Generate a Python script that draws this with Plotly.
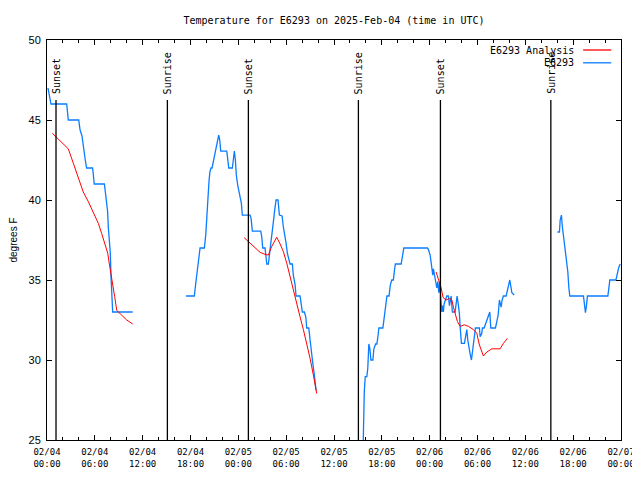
import pandas as pd
import plotly.graph_objects as go

BASE = pd.Timestamp("2025-02-04 00:00")

# Observed temperature (E6293), hours since 02/04 00:00 UTC, segments separated by gaps
obs_seg1_hours = [0.12, 0.25, 0.5, 2.47, 2.67, 3.98, 4.14, 4.39, 4.56, 4.8, 4.97, 5.71, 5.79, 5.92,
                  7.2, 7.36, 7.49, 7.6, 7.69, 7.82, 7.94, 8.03, 8.12, 8.24, 10.75]
obs_seg1_vals = [47.0, 46.6, 46.0, 46.0, 45.0, 45.0, 44.4, 44.0, 43.3, 42.5, 42.0, 42.0, 41.7, 41.0,
                 41.0, 40.3, 39.8, 39.3, 38.3, 37.3, 36.7, 35.2, 33.8, 33.0, 33.0]

obs_seg2_hours = [17.44, 18.48, 18.66, 18.86, 19.07, 19.2, 19.74, 19.91, 20.04, 20.16, 20.33, 20.45,
                  20.58, 20.7, 20.87, 20.99, 21.12, 21.29, 21.42, 21.54, 21.67, 21.79, 22.55, 22.67,
                  22.8, 23.25, 23.38, 23.5, 23.63, 23.75, 23.93, 24.05, 24.22, 24.38, 24.5, 25.47,
                  25.6, 25.76, 26.81, 26.94, 27.06, 27.35, 27.44, 27.57, 27.77, 27.89, 28.07, 28.27,
                  28.39, 28.57, 28.73, 28.98, 29.15, 29.49, 29.65, 29.86, 29.99, 30.15, 30.33, 30.49,
                  30.78, 30.9, 31.12, 31.24, 31.74, 31.91, 32.03, 32.28, 32.46, 32.58, 32.84, 33.0,
                  33.16, 33.34, 33.5, 33.63, 33.75]
obs_seg2_vals = [34.0, 34.0, 34.8, 35.7, 36.25, 37.0, 37.0, 37.8, 38.85, 40.3, 41.25, 41.8,
                 42.0, 42.0, 42.4, 42.8, 43.2, 43.6, 43.85, 44.05, 43.75, 43.06, 43.06, 42.3,
                 42.0, 42.0, 42.7, 43.06, 42.5, 41.56, 40.9, 40.6, 40.2, 39.8, 39.06, 39.06,
                 38.85, 38.06, 38.06, 37.7, 37.0, 37.0, 36.56, 36.0, 36.0, 36.67, 37.3, 38.1,
                 38.75, 39.4, 40.0, 40.0, 39.06, 39.0, 38.3, 37.75, 37.3, 36.67, 36.3, 36.0,
                 36.0, 35.3, 34.7, 34.0, 34.0, 33.5, 33.0, 33.0, 32.7, 32.0, 32.0, 31.25,
                 30.4, 29.8, 29.2, 28.55, 28.1]

obs_seg3_hours = [39.65, 39.69, 39.75, 39.8, 39.92, 40.12, 40.24, 40.33, 40.37, 40.5, 40.63, 40.88,
                  41.0, 41.22, 41.38, 41.56, 41.63, 42.13, 42.31, 42.47, 42.64, 42.9, 43.07, 43.25,
                  43.45, 43.58, 43.7, 44.42, 44.63, 44.76, 47.72, 47.84, 48.06, 48.18, 48.31, 48.39,
                  48.47, 48.6, 48.68, 48.77, 48.9, 49.02, 49.15, 49.27, 49.4, 49.52, 49.6, 49.72,
                  49.81, 50.15, 50.35, 50.48, 50.69, 50.85, 51.19, 51.32, 51.44, 51.61, 51.73, 51.82,
                  51.98, 52.36, 52.53, 52.66, 52.78, 52.91, 53.07, 53.24, 53.41, 53.58, 53.74, 54.24,
                  54.33, 54.54, 54.62, 54.83, 55.04, 55.42, 55.54, 55.67, 56.25, 56.42, 56.59, 56.75,
                  56.96, 57.09, 57.25, 57.59, 57.75, 57.93, 58.05, 58.18, 58.31, 58.6]
obs_seg3_vals = [24.5, 26.0, 26.0, 28.0, 28.96, 28.96, 29.5, 30.4, 31.0, 30.7, 30.0, 30.0,
                 30.7, 31.0, 31.0, 31.67, 32.0, 32.0, 32.7, 33.3, 34.0, 34.0, 34.7, 35.0,
                 35.0, 35.6, 36.0, 36.0, 36.7, 37.0, 37.0, 36.9, 36.56, 36.1, 35.7, 35.3,
                 35.7, 35.4, 35.1, 34.8, 34.5, 34.9, 34.2, 34.8, 33.3, 33.0, 33.4, 33.0,
                 33.5, 34.0, 34.0, 33.4, 34.0, 33.0, 33.0, 33.75, 34.0, 33.4, 32.9, 32.1,
                 31.04, 31.04, 31.45, 31.9, 31.25, 30.7, 30.4, 30.0, 30.8, 31.45, 32.0, 32.0,
                 31.45, 31.67, 32.0, 32.0, 32.3, 32.8, 33.0, 32.0, 32.0, 32.4, 32.8, 33.75,
                 33.3, 33.75, 34.0, 34.0, 34.3, 34.6, 35.0, 34.6, 34.2, 34.06]

obs_seg4_hours = [64.03, 64.28, 64.37, 64.53, 64.62, 64.78, 64.96, 65.08, 65.21, 65.33, 65.46, 65.58,
                  67.29, 67.41, 67.54, 67.67, 67.79, 70.35, 70.48, 70.6, 71.36, 71.48, 71.61, 71.73,
                  71.9]
obs_seg4_vals = [38.0, 38.0, 38.75, 39.06, 38.44, 37.8, 37.2, 36.67, 36.15, 35.5, 34.5, 34.0,
                 34.0, 33.4, 32.96, 33.4, 34.0, 34.0, 34.5, 35.0, 35.0, 35.3, 35.6, 35.8,
                 36.0]

# Analysis (E6293 Analysis)
ana_seg1_hours = [0.67, 2.67, 3.3, 3.93, 4.55, 5.18, 5.81, 6.44, 6.86, 7.28, 7.62, 7.82, 7.99,
                  8.24, 8.49, 8.75, 9.16, 10.0, 10.75]
ana_seg1_vals = [44.17, 43.2, 42.3, 41.46, 40.5, 39.9, 39.27, 38.54, 37.9, 37.2, 36.67, 36.0, 35.4,
                 34.7, 33.96, 33.1, 32.9, 32.5, 32.25]

ana_seg2_hours = [24.72, 25.26, 25.88, 26.73, 27.35, 27.77, 28.19, 28.82, 29.24, 29.65, 30.08,
                  30.49, 30.9, 31.33, 31.74, 32.16, 32.58, 33.0, 33.41, 33.63, 33.84]
ana_seg2_vals = [37.65, 37.4, 37.1, 36.73, 36.6, 36.56, 37.1, 37.67, 37.25, 36.77, 36.04,
                 35.2, 34.27, 33.44, 32.7, 31.9, 31.04, 30.1, 29.06, 28.33, 27.9]

ana_seg3_hours = [48.81, 49.44, 49.69, 50.06, 50.48, 50.78, 50.98, 51.23, 51.48, 51.82, 52.36,
                  52.86, 53.49, 53.91, 54.24, 54.74, 55.17, 55.80, 56.21, 56.84, 57.25, 57.75]
ana_seg3_vals = [35.5, 34.5, 33.9, 33.75, 33.85, 33.75, 33.3, 32.9, 32.4, 32.1, 32.2,
                 32.1, 31.9, 31.67, 30.94, 30.25, 30.5, 30.7, 30.7, 30.7, 31.04, 31.35]

# Sun events (hours since 02/04 00:00 UTC)
sun_event_hours = [1.13, 15.1, 25.26, 39.06, 49.35, 63.2]
sun_event_labels = ["Sunset", "Sunrise", "Sunset", "Sunrise", "Sunset", "Sunrise"]

# X tick labels
xtick_hours = [0, 6, 12, 18, 24, 30, 36, 42, 48, 54, 60, 66, 72]
xtick_labels = ["02/04<br>00:00", "02/04<br>06:00", "02/04<br>12:00", "02/04<br>18:00",
                "02/05<br>00:00", "02/05<br>06:00", "02/05<br>12:00", "02/05<br>18:00",
                "02/06<br>00:00", "02/06<br>06:00", "02/06<br>12:00", "02/06<br>18:00",
                "02/07<br>00:00"]
ytick_vals = [25, 30, 35, 40, 45, 50]


def to_time(h):
    return BASE + pd.to_timedelta(h, unit="h")


def join(segments):
    xs, ys = [], []
    for hrs, vals in segments:
        xs.extend(to_time(h) for h in hrs)
        ys.extend(vals)
        xs.append(None)
        ys.append(None)
    return xs[:-1], ys[:-1]


ax, ay = join([(ana_seg1_hours, ana_seg1_vals), (ana_seg2_hours, ana_seg2_vals),
               (ana_seg3_hours, ana_seg3_vals)])
ox, oy = join([(obs_seg1_hours, obs_seg1_vals), (obs_seg2_hours, obs_seg2_vals),
               (obs_seg3_hours, obs_seg3_vals), (obs_seg4_hours, obs_seg4_vals)])

FONT = "DejaVu Sans Mono"
SANS = "Liberation Sans"
BLUE = "#0a7cff"
RED = "#ff0000"

# The page body has an 8px margin, so margins are shifted by 8px to land the plot area
# at the same screen position as the reference.
W, H = 640, 480

fig = go.Figure()
fig.add_trace(go.Scatter(x=ox, y=oy, mode="lines", name="E6293",
                         line=dict(color=BLUE, width=1.3), connectgaps=False, showlegend=False))
fig.add_trace(go.Scatter(x=ax, y=ay, mode="lines", name="E6293 Analysis",
                         line=dict(color=RED, width=1), connectgaps=False, showlegend=False))

# Sun event lines and labels
for h, lab in zip(sun_event_hours, sun_event_labels):
    t = to_time(h)
    fig.add_shape(type="line", xref="x", yref="paper", x0=t, x1=t, y0=0, y1=0.85,
                  line=dict(color="black", width=1.3), layer="above")
    fig.add_annotation(x=t, xref="x", y=0.85, yref="paper", text=lab, textangle=-90,
                       showarrow=False, xanchor="center", yanchor="bottom", yshift=4,
                       font=dict(family=FONT, size=10, color="black"))

# Legend (gnuplot style: text then sample line)
legend_items = [("E6293 Analysis", RED, 0.975), ("E6293", BLUE, 0.943)]
for text, col, yp in legend_items:
    fig.add_annotation(x=0.921, xref="paper", y=yp, yref="paper", text=text, showarrow=False,
                       xanchor="right", yanchor="middle",
                       font=dict(family=FONT, size=10, color="black"))
    fig.add_shape(type="line", xref="paper", yref="paper", x0=0.934, x1=0.983, y0=yp, y1=yp,
                  line=dict(color=col, width=1.3))

fig.update_layout(
    width=W, height=H,
    margin=dict(l=39, r=27, t=32, b=48, autoexpand=False),
    paper_bgcolor="white", plot_bgcolor="white",
    title=dict(text="Temperature for E6293 on 2025-Feb-04 (time in UTC)", x=0.5, xref="paper",
               y=1 - 12 / H, yanchor="middle", xanchor="center",
               font=dict(family=FONT, size=10, color="black")),
    font=dict(family=FONT, size=10, color="black"),
    showlegend=False,
)
fig.update_xaxes(
    type="date", range=[to_time(0), to_time(72)], automargin=False,
    tickvals=[to_time(h) for h in xtick_hours], ticktext=xtick_labels,
    ticks="inside", ticklen=5, tickcolor="black", tickwidth=1, ticklabelstandoff=3,
    minor=dict(dtick=2 * 3600 * 1000, ticks="inside", ticklen=3, tickcolor="black", showgrid=False),
    showline=True, linecolor="black", linewidth=1, mirror="ticks",
    showgrid=False, zeroline=False, tickfont=dict(family=FONT, size=9),
)
fig.update_yaxes(
    range=[25, 50], tickvals=ytick_vals, automargin=False,
    ticks="inside", ticklen=5, tickcolor="black", tickwidth=1, ticklabelstandoff=3,
    showline=True, linecolor="black", linewidth=1, mirror="ticks",
    showgrid=False, zeroline=False, tickfont=dict(family=SANS, size=11),
    title=dict(text="degrees F", font=dict(family=SANS, size=10), standoff=23),
)

fig.write_html("out.html")
